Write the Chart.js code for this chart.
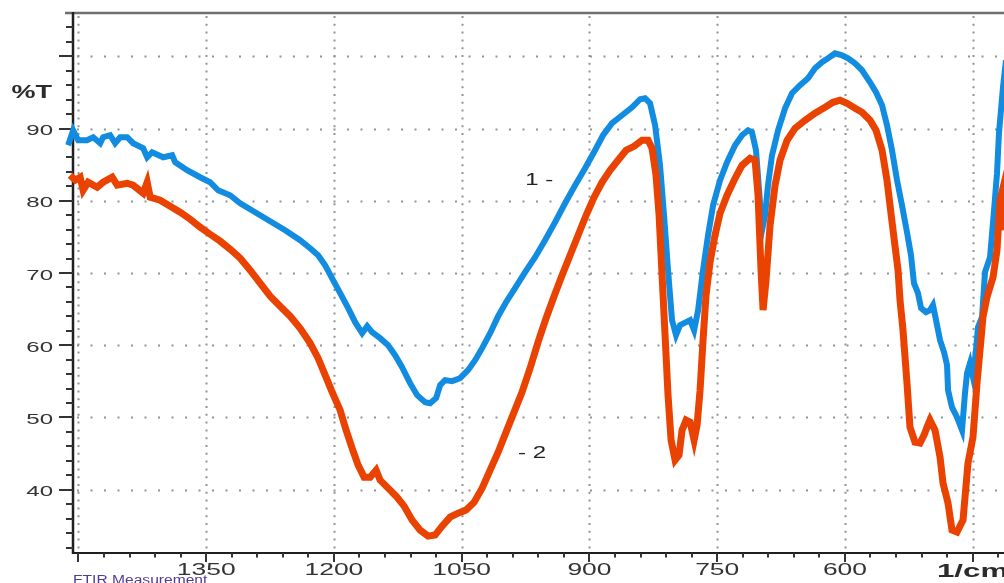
<!DOCTYPE html>
<html>
<head>
<meta charset="utf-8">
<title>FTIR</title>
<script src="https://cdn.jsdelivr.net/npm/chart.js@4.4.1/dist/chart.umd.min.js"></script>
<style>
  html, body { margin: 0; padding: 0; background: #ffffff; overflow: hidden; }
  canvas { display: block; }
</style>
</head>
<body>
<canvas id="ftir" width="1004" height="583"></canvas>
<script>
// Spectrum 1: [wavenumber (1/cm), transmittance (%T)]
const sample1 = [
  [1512.1,87.69],[1506.2,89.77],[1500.3,88.38],[1489.8,88.38],[1482.7,88.80],[1474.5,87.97],[1471.0,88.80],
  [1462.8,89.08],[1456.9,87.97],[1451.0,88.80],[1442.8,88.80],[1435.8,87.97],[1424.0,87.28],[1419.3,86.03],
  [1413.5,86.72],[1400.5,86.03],[1390.0,86.31],[1386.4,85.34],[1372.4,84.23],[1357.1,83.26],[1345.4,82.57],
  [1336.0,81.46],[1321.9,80.77],[1310.1,79.66],[1292.5,78.42],[1274.9,77.17],[1257.3,75.93],[1239.7,74.54],
  [1228.0,73.44],[1218.6,72.47],[1210.3,71.08],[1201.0,69.01],[1192.7,67.21],[1183.3,65.13],[1175.1,63.20],
  [1166.9,61.67],[1161.0,62.64],[1155.2,61.81],[1145.8,60.98],[1136.4,60.01],[1128.2,58.63],[1120.0,56.97],
  [1110.6,54.75],[1102.3,53.09],[1092.9,52.12],[1087.1,51.98],[1080.0,52.68],[1075.3,54.48],[1069.5,55.17],
  [1061.3,55.03],[1051.9,55.44],[1042.5,56.55],[1034.2,57.94],[1026.0,59.60],[1016.6,61.67],[1007.2,64.03],
  [997.9,65.96],[987.3,67.90],[975.5,70.12],[963.8,72.19],[952.1,74.54],[940.3,77.04],[928.6,79.66],
  [916.8,82.16],[905.1,84.51],[893.4,87.00],[884.0,89.08],[873.4,90.74],[861.7,91.84],[849.9,92.95],
  [840.5,94.06],[834.7,94.20],[828.8,93.50],[822.9,90.46],[817.1,84.92],[812.4,78.00],[807.7,70.39],
  [803.0,63.47],[798.3,61.40],[793.6,62.78],[786.5,63.20],[781.8,63.47],[777.1,62.09],[772.4,64.86],
  [766.6,70.39],[760.7,75.24],[754.8,79.39],[746.6,82.85],[738.4,85.34],[729.0,87.69],[720.8,89.08],
  [713.7,89.77],[709.1,89.49],[704.4,87.00],[700.8,81.46],[697.3,75.93],[693.8,78.00],[690.3,82.16],
  [685.6,86.31],[678.5,89.77],[670.3,92.81],[662.1,94.89],[652.7,96.00],[643.3,96.96],[635.1,98.35],
  [626.9,99.18],[619.8,99.73],[611.6,100.42],[603.4,100.15],[596.3,99.73],[588.1,99.04],[579.9,98.07],
  [570.5,96.41],[563.5,95.03],[556.4,93.23],[550.6,90.46],[544.7,87.00],[538.8,82.85],[533.0,79.39],
  [527.1,75.65],[522.4,72.47],[518.9,68.59],[514.2,67.21],[510.6,65.13],[504.8,64.58],[500.1,64.86],
  [496.6,65.55],[493.0,63.47],[488.3,60.70],[483.6,59.04],[480.1,57.24],[478.9,53.78],[474.3,51.43],
  [468.4,50.05],[462.5,48.25],[459.0,53.37],[456.6,56.14],[453.1,57.52],[449.6,55.58],[446.1,59.32],
  [443.7,62.50],[439.0,63.89],[435.5,70.12],[429.6,72.19],[424.9,78.70],[421.4,83.82],[419.1,89.35],
  [414.4,95.72],[410.9,99.46]
];

// Spectrum 2: [wavenumber (1/cm), transmittance (%T)]
const sample2 = [
  [1509.7,83.54],[1503.8,82.85],[1498.0,83.26],[1494.5,81.46],[1488.6,82.57],[1478.0,81.88],[1471.0,82.57],
  [1460.4,83.26],[1454.5,82.16],[1442.8,82.43],[1435.8,82.16],[1424.0,81.05],[1419.3,82.57],[1415.8,80.50],
  [1404.1,80.08],[1392.3,79.25],[1380.6,78.42],[1368.8,77.45],[1357.1,76.34],[1345.4,75.37],[1333.6,74.41],
  [1321.9,73.30],[1310.1,72.05],[1298.4,70.39],[1286.7,68.59],[1274.9,66.79],[1263.2,65.41],[1251.4,64.03],
  [1239.7,62.36],[1228.0,60.29],[1218.6,58.21],[1210.3,55.86],[1202.1,53.51],[1192.7,51.02],[1185.7,48.25],
  [1178.7,45.76],[1171.6,43.40],[1164.6,41.74],[1157.5,41.74],[1150.5,42.71],[1145.8,41.33],[1136.4,40.22],
  [1127.0,39.11],[1117.6,37.73],[1108.2,35.79],[1098.8,34.41],[1089.4,33.58],[1081.2,33.72],[1073.0,34.96],
  [1063.6,36.21],[1054.2,36.76],[1044.8,37.18],[1035.4,38.28],[1026.0,40.22],[1016.6,42.71],[1007.2,45.20],
  [997.9,47.97],[988.5,50.74],[979.1,53.51],[969.7,56.83],[960.3,60.43],[950.9,63.75],[941.5,66.79],
  [932.1,69.70],[922.7,72.47],[913.3,75.24],[903.9,78.00],[894.5,80.50],[885.2,82.57],[875.8,84.23],
  [866.4,85.62],[857.0,87.00],[847.6,87.55],[838.2,88.38],[831.1,88.38],[826.5,87.28],[821.8,83.54],
  [818.2,78.00],[814.7,69.70],[811.2,61.40],[807.7,53.09],[804.1,46.86],[799.4,44.10],[794.8,44.79],
  [791.2,48.25],[786.5,49.63],[781.8,49.36],[777.1,46.86],[773.6,48.94],[770.1,53.78],[766.6,60.70],
  [763.1,66.93],[758.4,71.50],[752.5,75.24],[746.6,78.28],[738.4,80.77],[729.0,83.12],[720.8,84.92],
  [711.4,85.89],[705.5,85.62],[702.0,80.77],[698.5,70.39],[696.1,64.86],[692.6,69.01],[687.9,76.62],
  [682.0,82.16],[676.2,85.62],[667.9,88.38],[658.6,90.04],[646.8,91.15],[635.1,92.12],[623.3,92.95],
  [614.0,93.64],[605.7,93.92],[597.5,93.50],[588.1,92.81],[579.9,92.26],[570.5,91.15],[563.5,89.77],
  [556.4,87.00],[550.6,82.85],[543.5,75.93],[537.6,70.39],[535.3,66.25],[531.8,62.09],[527.1,54.75],
  [523.6,48.66],[517.7,46.59],[511.8,46.45],[507.1,47.56],[503.6,48.66],[500.1,49.63],[494.2,48.25],
  [488.3,44.51],[484.8,40.91],[478.9,38.14],[474.3,34.41],[468.4,34.13],[461.3,35.79],[455.5,43.68],
  [449.6,47.28],[444.9,54.75],[437.9,63.89],[433.2,66.66],[426.1,69.42],[421.4,73.16],[417.9,80.08],
  [415.6,81.19],[413.2,75.93]
];

// Axis labelling
const yTickLabels = [90, 80, 70, 60, 50, 40];
const xTickLabels = [1350, 1200, 1050, 900, 750, 600];
const xUnitLabel = '1/cm';
const xUnitValue = 450;
const yTitle = '%T';
const yTitleValue = 95.2;
const xGridValues = [1500, 1350, 1200, 1050, 900, 750, 600, 450];
const yGridValues = [100, 90, 80, 70, 60, 50, 40];
const curveTags = [
  { text: '1 -', x: 975.5, y: 83.0 },
  { text: '- 2', x: 983.8, y: 45.2 }
];
const footerText = 'FTIR Measurement';

const X_MIN = 413.2, X_MAX = 1506.4;
const Y_MIN = 31.24, Y_MAX = 106.0;

function wideText(ctx, text, x, y, font, color, sx, align) {
  ctx.save();
  ctx.font = font;
  ctx.fillStyle = color;
  ctx.textBaseline = 'alphabetic';
  ctx.textAlign = 'left';
  const w = ctx.measureText(text).width * sx;
  const left = align === 'center' ? x - w / 2 : align === 'right' ? x - w : x;
  ctx.translate(left, y);
  ctx.scale(sx, 1);
  ctx.fillText(text, 0, 0);
  ctx.restore();
}

const frame = {
  id: 'frame',
  beforeDatasetsDraw(chart) {
    const { ctx, chartArea: a, scales: { x, y } } = chart;
    ctx.save();
    // dotted grid
    ctx.strokeStyle = '#8c949c';
    ctx.lineWidth = 2;
    ctx.setLineDash([2, 11.5]);
    yGridValues.forEach(v => {
      const py = Math.round(y.getPixelForValue(v)) + 0.5;
      ctx.beginPath(); ctx.moveTo(a.left + 4, py); ctx.lineTo(a.right, py); ctx.stroke();
    });
    ctx.setLineDash([2, 5.8]);
    xGridValues.forEach(v => {
      const px = Math.round(x.getPixelForValue(v)) + 0.5;
      ctx.beginPath(); ctx.moveTo(px, a.top + 3); ctx.lineTo(px, a.bottom); ctx.stroke();
    });
    ctx.setLineDash([]);

    // frame: grey top rule, black left and bottom axes
    ctx.strokeStyle = '#6e6e6e';
    ctx.lineWidth = 2.5;
    ctx.beginPath(); ctx.moveTo(65, a.top); ctx.lineTo(a.right, a.top); ctx.stroke();
    ctx.strokeStyle = '#1f1f1f';
    ctx.lineWidth = 2.5;
    ctx.beginPath(); ctx.moveTo(a.left, a.top - 1); ctx.lineTo(a.left, a.bottom + 1); ctx.stroke();
    ctx.lineWidth = 2;
    ctx.beginPath(); ctx.moveTo(a.left - 1, a.bottom); ctx.lineTo(a.right, a.bottom); ctx.stroke();

    // y ticks every 2 %T, long ones every 10
    ctx.strokeStyle = '#333333';
    ctx.lineWidth = 2;
    for (let v = 32; v <= 104; v += 2) {
      const py = Math.round(y.getPixelForValue(v));
      const len = v % 10 === 0 ? 14 : 7;
      ctx.beginPath(); ctx.moveTo(a.left - len, py); ctx.lineTo(a.left, py); ctx.stroke();
    }
    // x ticks every 30 1/cm, long ones every 150
    for (let v = 1500; v >= 420; v -= 30) {
      const px = Math.round(x.getPixelForValue(v));
      const len = (1500 - v) % 150 === 0 ? 9 : 4.5;
      ctx.beginPath(); ctx.moveTo(px, a.bottom); ctx.lineTo(px, a.bottom + len); ctx.stroke();
    }
    ctx.restore();
  },
  afterDraw(chart) {
    const { ctx, scales: { x, y } } = chart;
    yTickLabels.forEach(v => {
      wideText(ctx, String(v), 53, y.getPixelForValue(v) + 6.5, '15.5px "Liberation Sans", Arial, sans-serif', '#333333', 1.55, 'right');
    });
    wideText(ctx, yTitle, 52, y.getPixelForValue(yTitleValue) + 6.5, 'bold 18px "Liberation Sans", Arial, sans-serif', '#2b2b2b', 1.5, 'right');
    xTickLabels.forEach(v => {
      wideText(ctx, String(v), x.getPixelForValue(v), 575, '16px "Liberation Sans", Arial, sans-serif', '#333333', 1.65, 'center');
    });
    wideText(ctx, xUnitLabel, x.getPixelForValue(xUnitValue), 577, 'bold 19px "Liberation Sans", Arial, sans-serif', '#2b2b2b', 1.65, 'center');
    curveTags.forEach(t => {
      wideText(ctx, t.text, x.getPixelForValue(t.x), y.getPixelForValue(t.y) + 6, '16px "Liberation Sans", Arial, sans-serif', '#222222', 1.5, 'left');
    });
    wideText(ctx, footerText, 73, 583.5, '12px "Liberation Sans", Arial, sans-serif', '#4f3c96', 1.3, 'left');
  }
};

new Chart(document.getElementById('ftir'), {
  type: 'line',
  data: {
    datasets: [
      {
        label: '2',
        data: sample2.map(p => ({ x: p[0], y: p[1] })),
        borderColor: '#ea4200',
        borderWidth: 7,
        pointRadius: 0,
        tension: 0,
        fill: false,
        clip: false,
        order: 0
      },
      {
        label: '1',
        data: sample1.map(p => ({ x: p[0], y: p[1] })),
        borderColor: '#128ce0',
        borderWidth: 6,
        pointRadius: 0,
        tension: 0,
        fill: false,
        clip: false,
        order: 1
      }
    ]
  },
  options: {
    responsive: false,
    animation: false,
    events: [],
    layout: { padding: { left: 73, top: 13, right: 0, bottom: 30 } },
    scales: {
      x: { type: 'linear', reverse: true, min: X_MIN, max: X_MAX, display: false },
      y: { type: 'linear', min: Y_MIN, max: Y_MAX, display: false }
    },
    plugins: { legend: { display: false }, tooltip: { enabled: false } }
  },
  plugins: [frame]
});
</script>
</body>
</html>
